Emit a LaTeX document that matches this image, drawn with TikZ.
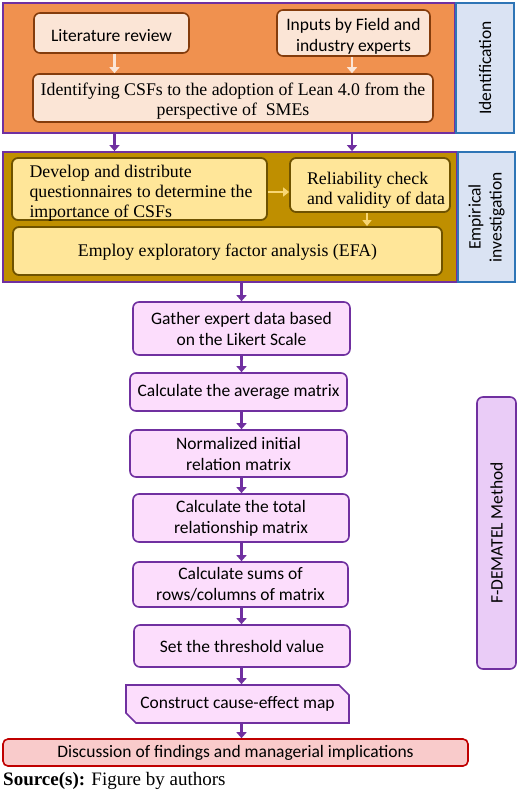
\documentclass[tikz,border=0pt]{standalone}
\usepackage{fontspec}
\setmainfont{Liberation Serif}
\newfontfamily\carl{Carlito}
\usetikzlibrary{shapes.misc,arrows.meta}
\definecolor{purp}{HTML}{7030A0}
\definecolor{orng}{HTML}{F0914F}
\definecolor{peach}{HTML}{FBE5D6}
\definecolor{brwn}{HTML}{843C0C}
\definecolor{gold}{HTML}{BF8F00}
\definecolor{ylw}{HTML}{FFE699}
\definecolor{olive}{HTML}{6E5200}
\definecolor{yarrow}{HTML}{F8D673}
\definecolor{sideblue}{HTML}{DAE3F3}
\definecolor{sideborder}{HTML}{2E75B6}
\definecolor{pink}{HTML}{FCDDFC}
\definecolor{lilac}{HTML}{EACCF7}
\definecolor{disc}{HTML}{F9CBCB}
\definecolor{dred}{HTML}{C00000}
\begin{document}
\begin{tikzpicture}[x=1pt,y=-1pt,
  sz/.style 2 args={minimum width=#1pt, minimum height=#2pt, inner sep=0pt},
  sans/.style={font=\carl\fontsize{17.5}{21}\selectfont},
  ser/.style={font=\fontsize{17.8}{20}\selectfont},
  frame/.style={draw=purp, line width=1.8pt},
  side/.style={draw=sideborder, line width=1.8pt, fill=sideblue, rotate=90, sans, align=center},
  peachbox/.style={draw=brwn, line width=1.6pt, fill=peach, rounded corners=6pt},
  ylwbox/.style={draw=olive, line width=1.8pt, fill=ylw, rounded corners=6pt},
  txt/.style={inner sep=0pt},
  pinkbox/.style={draw=purp, line width=1.6pt, fill=pink, rounded corners=6pt, sans, align=center},
  parr/.style={draw=purp, line width=2.6pt, -{Triangle[length=6pt,width=10pt]}},
  larr/.style={draw=peach, line width=2.6pt, -{Triangle[length=6pt,width=10pt]}},
  yarr/.style={draw=yarrow, line width=2.2pt, -{Triangle[length=6pt,width=9pt]}}
]
\useasboundingbox[fill=white] (0,0) rectangle (520,794);

% Identification section
\node[frame, fill=orng, sz={452}{130}] (f1) at (229,68) {};
\node[side, sz={130}{58}] (idn) at (485,68) {Identification};
\node[peachbox, sz={155}{40}] (lit) at (111.5,33) {};
\node[txt, sans] (litt) at ([yshift=-2.5pt]lit.center) {Literature review};
\node[peachbox, sz={153}{46}] (inp) at (353.5,33) {};
\node[txt, sans, align=center] (inpt) at ([yshift=-3.5pt]inp.center) {Inputs by Field and\\industry experts};
\node[peachbox, sz={400}{48}] (idf) at (233,98) {};
\node[txt, ser, align=center] (idft) at ([yshift=-3.5pt]idf.center) {Identifying CSFs to the adoption of Lean 4.0 from the\\perspective of\ \ SMEs};
\draw[larr] ([xshift=3pt]lit.south) -- ([xshift=3pt]lit.south |- idf.north);
\draw[larr] ([xshift=-1.5pt]inp.south) -- ([xshift=-1.5pt]inp.south |- idf.north);

% Empirical section
\node[frame, fill=gold, sz={454}{130}] (f2) at (230,217) {};
\node[side, sz={130}{57}] (emp) at (486.5,217) {Empirical\\investigation};
\node[ylwbox, sz={255}{62}] (dev) at (139.5,189) {};
\node[txt, ser, align=left] (devt) at ([xshift=1.5pt,yshift=-4.5pt]dev.center) {Develop and distribute\\questionnaires to determine the\\importance of CSFs};
\node[ylwbox, sz={160}{54}] (rel) at (370,185) {};
\node[txt, ser, align=left] (relt) at ([xshift=6pt,yshift=-5.5pt]rel.center) {Reliability check\\and validity of data};
\node[ylwbox, sz={429}{48}] (efa) at (227.5,251) {};
\node[txt, ser] (efat) at ([yshift=-1pt]efa.center) {Employ exploratory factor analysis (EFA)};
\draw[yarr] ([yshift=-3pt]dev.east) -- ([yshift=-3pt]dev.east -| rel.west);
\draw[yarr] ([xshift=-3pt]rel.south) -- ([xshift=-3pt]rel.south |- efa.north);

\draw[parr] ([xshift=3pt]lit.south |- f1.south) -- ([xshift=3pt]lit.south |- f2.north);
\draw[parr] ([xshift=-1.5pt]inp.south |- f1.south) -- ([xshift=-1.5pt]inp.south |- f2.north);

% F-DEMATEL steps
\node[pinkbox, sz={217}{53}] (gat) at (241.5,328.5) {Gather expert data based\\on the Likert Scale};
\node[pinkbox, sz={217}{38}] (avg) at (238.5,392) {Calculate the average matrix};
\node[pinkbox, sz={217}{47}] (nor) at (238.5,453.5) {Normalized initial\\relation matrix};
\node[pinkbox, sz={216}{48}] (tot) at (241,518) {Calculate the total\\relationship matrix};
\node[pinkbox, sz={215}{45}] (sum) at (240.5,584.5) {Calculate sums of\\rows/columns of matrix};
\node[pinkbox, sz={216}{42}] (thr) at (242,646) {Set the threshold value};
\node[draw=purp, line width=1.6pt, fill=pink, sans, chamfered rectangle, chamfered rectangle corners={north east,south west}, chamfered rectangle xsep=5pt, chamfered rectangle ysep=5pt, sz={223}{38}] (con) at (237.5,704) {Construct cause-effect map};
\node[draw=purp, line width=1.6pt, fill=lilac, rounded corners=6pt, rotate=90, sans, sz={272}{39}] (fdm) at (496.5,533) {F-DEMATEL Method};
\node[draw=dred, line width=1.6pt, fill=disc, rounded corners=5pt, sans, sz={465}{27}] (dis) at (235.5,752.5) {Discussion of findings and managerial implications};

\draw[parr] (f2.south -| gat.north) -- (gat.north);
\draw[parr] (gat.south) -- (gat.south |- avg.north);
\draw[parr] (gat.south |- avg.south) -- (gat.south |- nor.north);
\draw[parr] (gat.south |- nor.south) -- (gat.south |- tot.north);
\draw[parr] (gat.south |- tot.south) -- (gat.south |- sum.north);
\draw[parr] (gat.south |- sum.south) -- (gat.south |- thr.north);
\draw[parr] (gat.south |- thr.south) -- (gat.south |- con.north);
\draw[parr] (gat.south |- con.south) -- (gat.south |- dis.north);

\node[anchor=west, inner sep=0pt, font=\fontsize{19}{22}\selectfont] (src) at (3,781) {\textbf{Source(s):} Figure by authors};
\end{tikzpicture}
\end{document}
